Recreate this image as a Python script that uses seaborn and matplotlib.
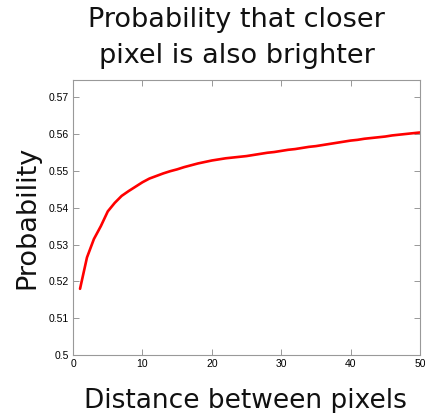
import matplotlib
matplotlib.use("Agg")
import matplotlib.pyplot as plt
import seaborn as sns
import pandas as pd

distance = list(range(1, 51))
probability = [0.5180, 0.5265, 0.5315, 0.5350, 0.5390, 0.5413, 0.5432, 0.5445, 0.5457, 0.5469,
               0.5479, 0.5486, 0.5493, 0.5499, 0.5504, 0.5510, 0.5515, 0.5520, 0.5524, 0.5528,
               0.5531, 0.5534, 0.5536, 0.5538, 0.5540, 0.5543, 0.5546, 0.5549, 0.5551, 0.5554,
               0.5557, 0.5559, 0.5562, 0.5565, 0.5567, 0.5570, 0.5573, 0.5576, 0.5579, 0.5582,
               0.5584, 0.5587, 0.5589, 0.5591, 0.5593, 0.5596, 0.5598, 0.5600, 0.5602, 0.5604]
xticks = [0, 10, 20, 30, 40, 50]
yticks = [0.5, 0.51, 0.52, 0.53, 0.54, 0.55, 0.56, 0.57]
ytick_labels = ["0.5", "0.51", "0.52", "0.53", "0.54", "0.55", "0.56", "0.57"]
title_lines = ["Probability that closer", "pixel is also brighter"]

sns.set_style("white")
plt.rcParams['font.family'] = ['Liberation Sans', 'DejaVu Sans']
plt.rcParams['text.color'] = 'black'
plt.rcParams['axes.labelcolor'] = 'black'
plt.rcParams['xtick.color'] = 'black'
plt.rcParams['ytick.color'] = 'black'

df = pd.DataFrame({"distance": distance, "probability": probability})

fig = plt.figure(figsize=(4.25, 4.13), dpi=100)
ax = fig.add_axes([0.172, 0.140, 0.816, 0.666])
sns.lineplot(data=df, x="distance", y="probability", color="#ff0000", linewidth=1.9, ax=ax)

ax.set_xlim(0, 50)
ax.set_ylim(0.5, 0.5746)
ax.set_xticks(xticks)
ax.set_xticklabels([str(t) for t in xticks], fontsize=7.5)
ax.set_yticks(yticks)
ax.set_yticklabels(ytick_labels, fontsize=7.5)
ax.tick_params(direction="in", length=4, width=0.6, color="#888888", labelcolor="black",
               top=True, right=True, bottom=True, left=True, pad=3)
for s in ax.spines.values():
    s.set_color("#999999")
    s.set_linewidth(0.8)

big_font = ['DejaVu Sans']
fig.text(0.557, 1 - 27 / 413, title_lines[0], ha="center", va="baseline",
         fontsize=19.5, family=big_font, color="#111111")
fig.text(0.557, 1 - 63 / 413, title_lines[1], ha="center", va="baseline",
         fontsize=19.5, family=big_font, color="#111111")
fig.text(0.578, 1 - 408 / 413, "Distance between pixels", ha="center", va="baseline",
         fontsize=19, family=big_font, color="#111111")
ax.set_xlabel("")
ax.set_ylabel("Probability", fontsize=19.5, family=big_font, labelpad=6, color="#111111")

fig.savefig("out.png", dpi=100)
